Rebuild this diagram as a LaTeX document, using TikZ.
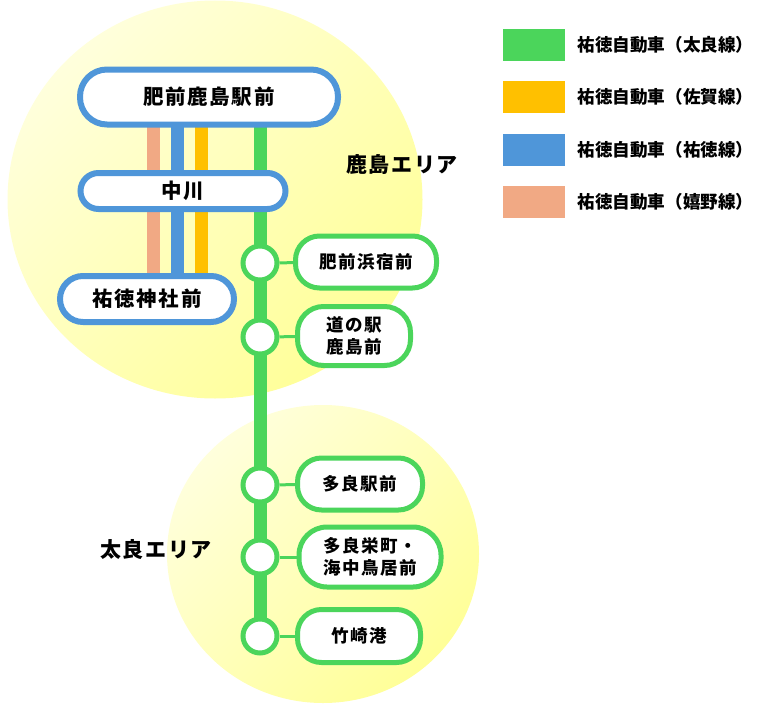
\documentclass[tikz,border=0pt]{standalone}
\usepackage{fontspec}
\newfontfamily\jpfont{Noto Sans CJK JP}[LetterSpace=8]
\newfontfamily\jpkey{Noto Sans CJK JP}
\usetikzlibrary{backgrounds,positioning}
\definecolor{taraGreen}{HTML}{4BD55B}
\definecolor{sagaOrange}{HTML}{FFC000}
\definecolor{yutokuBlue}{HTML}{4F96D9}
\definecolor{ureshinoSalmon}{HTML}{F1A984}
\definecolor{areaLight}{HTML}{FFFFDC}
\definecolor{areaDark}{HTML}{FFFF98}
\begin{document}
\begin{tikzpicture}[x=1pt, y=-1pt,
  hub/.style={draw=yutokuBlue, line width=6pt, fill=white, inner sep=0pt, font=\jpfont\bfseries\fontsize{20.5}{24}\selectfont},
  stop/.style={circle, draw=taraGreen, line width=5pt, fill=white, minimum size=34pt, inner sep=0pt},
  stopbox/.style={draw=taraGreen, line width=5pt, fill=white, inner sep=0pt, align=center, font=\jpfont\bfseries\fontsize{17.5}{22}\selectfont},
  route/.style={line width=13pt},
  link/.style={draw=taraGreen, line width=3pt},
  area/.style={font=\jpfont\bfseries\fontsize{21}{24}\selectfont},
  swatch/.style={minimum width=62pt, minimum height=32pt, inner sep=0pt},
  key/.style={font=\jpkey\bfseries\fontsize{17.6}{20}\selectfont, inner sep=0pt}]
\useasboundingbox (0,0) rectangle (770,717);
% bus terminals
\node[hub, minimum width=258pt, minimum height=55pt, rounded corners=27pt] (kashima) at (209,97) {肥前鹿島駅前};
\node[hub, minimum width=205pt, minimum height=36pt, rounded corners=18pt] (nakagawa) at (183,191) {中川};
\node[hub, minimum width=174pt, minimum height=46pt, rounded corners=23pt] (jinja) at (147,299) {祐徳神社前};
% tara line stops
\node[stop] (c1) at (260,263) {};
\node[stop] (c2) at (260,337) {};
\node[stop] (c3) at (260,485) {};
\node[stop] (c4) at (260,557) {};
\node[stop] (c5) at (260,636) {};
\node[stopbox, minimum width=141pt, minimum height=52pt, rounded corners=24pt] (s1) at (366,262) {肥前浜宿前};
\node[stopbox, minimum width=113pt, minimum height=59pt, rounded corners=26pt] (s2) at (354,336) {道の駅\\鹿島前};
\node[stopbox, minimum width=125pt, minimum height=52pt, rounded corners=24pt] (s3) at (360,484) {多良駅前};
\node[stopbox, minimum width=142pt, minimum height=60pt, rounded corners=28pt] (s4) at (370,557) {多良栄町・\\海中鳥居前};
\node[stopbox, minimum width=123pt, minimum height=53pt, rounded corners=24pt] (s5) at (359,636) {竹崎港};
% areas
\node[area] (kashimaArea) at (402,164) {鹿島エリア};
\node[area] (taraArea) at (156,550) {太良エリア};
% legend
\node[swatch, fill=taraGreen] (keyTara) at (534,45) {};
\node[swatch, fill=sagaOrange] (keySaga) at (534,97) {};
\node[swatch, fill=yutokuBlue] (keyYutoku) at (534,150) {};
\node[swatch, fill=ureshinoSalmon] (keyUreshino) at (534,202) {};
\node[key, right=12pt of keyTara] (txtTara) {祐徳自動車（太良線）};
\node[key, right=12pt of keySaga] (txtSaga) {祐徳自動車（佐賀線）};
\node[key, right=12pt of keyYutoku] (txtYutoku) {祐徳自動車（祐徳線）};
\node[key, right=12pt of keyUreshino] (txtUreshino) {祐徳自動車（嬉野線）};
\begin{pgfonlayer}{background}
\shade[top color=areaLight, bottom color=areaDark, shading angle=45] (215,199.5) ellipse [x radius=207.5pt, y radius=199pt];
\shade[top color=areaLight, bottom color=areaDark, shading angle=45] (323,554) ellipse [x radius=156pt, y radius=149pt];
\draw[route, draw=ureshinoSalmon] ([xshift=-56pt]kashima.center) -- ([xshift=-56pt]kashima.center |- jinja.center);
\draw[route, draw=yutokuBlue] ([xshift=-32pt]kashima.center) -- ([xshift=-32pt]kashima.center |- jinja.center);
\draw[route, draw=sagaOrange] ([xshift=-8pt]kashima.center) -- ([xshift=-8pt]kashima.center |- jinja.center);
\draw[route, draw=taraGreen] ([xshift=51pt]kashima.center) -- (c5.center);
\draw[link] (c1) -- (s1);
\draw[link] (c2) -- (s2);
\draw[link] (c3) -- (s3);
\draw[link] (c4) -- (s4);
\draw[link] (c5) -- (s5);
\end{pgfonlayer}
\end{tikzpicture}
\end{document}
